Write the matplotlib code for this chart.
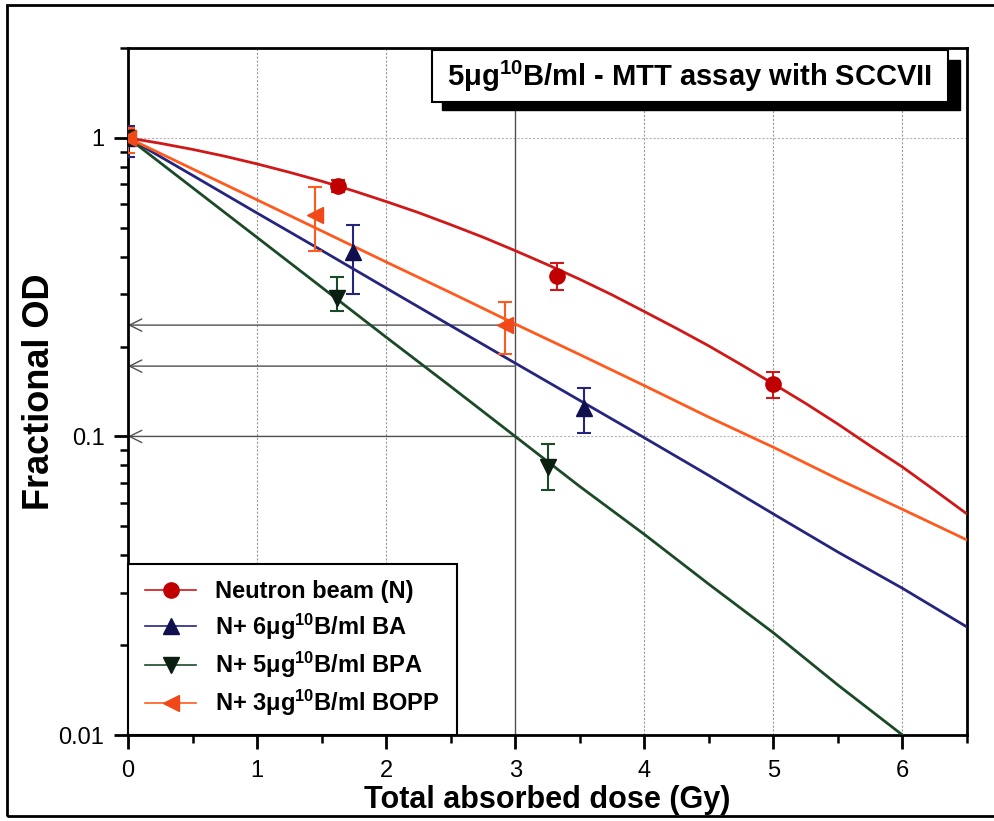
import matplotlib
matplotlib.use("Agg")
import matplotlib.pyplot as plt
from matplotlib.patches import Rectangle
from matplotlib.lines import Line2D
from matplotlib.ticker import FixedLocator, NullFormatter

plt.rcParams['font.family'] = ['Liberation Sans', 'DejaVu Sans']
plt.rcParams['mathtext.fontset'] = 'custom'
plt.rcParams['mathtext.rm'] = 'Liberation Sans:bold'
plt.rcParams['mathtext.bf'] = 'Liberation Sans:bold'
plt.rcParams['mathtext.default'] = 'bf'

# Fit curves (dose in Gy, fractional OD)
dose_fit_n = [0, 0.25, 0.5, 0.75, 1, 1.25, 1.5, 1.75, 2, 2.25, 2.5, 2.75, 3, 3.25,
              3.5, 3.75, 4, 4.25, 4.5, 4.75, 5, 5.25, 5.5, 5.75, 6, 6.25, 6.5]
fit_neutron = [1.0, 0.959, 0.915, 0.868, 0.818, 0.767, 0.716, 0.664, 0.612, 0.562, 0.512,
               0.465, 0.419, 0.376, 0.336, 0.298, 0.262, 0.230, 0.201, 0.174, 0.150,
               0.129, 0.110, 0.093, 0.079, 0.066, 0.055]
dose_fit = [0, 0.5, 1, 1.5, 2, 2.5, 3, 3.5, 4, 4.5, 5, 5.5, 6, 6.5]
fit_ba = [1.0, 0.749, 0.560, 0.420, 0.314, 0.235, 0.176, 0.132, 0.099, 0.074, 0.055, 0.041, 0.031, 0.023]
fit_bpa = [1.0, 0.681, 0.464, 0.316, 0.215, 0.147, 0.100, 0.068, 0.047, 0.032, 0.022, 0.0147, 0.0100, 0.0068]
fit_bopp = [1.0, 0.787, 0.620, 0.488, 0.384, 0.303, 0.238, 0.188, 0.148, 0.116, 0.092, 0.072, 0.057, 0.045]

# Measured points: dose, value, lower and upper error bar ends
dose_n = [0, 1.63, 3.32, 5.0]
od_n = [1.0, 0.69, 0.345, 0.15]
lo_n = [0.94, 0.66, 0.31, 0.135]
hi_n = [1.06, 0.72, 0.38, 0.165]

dose_ba = [0, 1.74, 3.53]
od_ba = [1.0, 0.415, 0.125]
lo_ba = [0.86, 0.30, 0.103]
hi_ba = [1.10, 0.51, 0.145]

dose_bpa = [0, 1.62, 3.25]
od_bpa = [1.0, 0.29, 0.079]
lo_bpa = [0.96, 0.263, 0.066]
hi_bpa = [1.04, 0.342, 0.094]

dose_bopp = [0, 1.45, 2.92]
od_bopp = [1.0, 0.55, 0.236]
lo_bopp = [0.89, 0.418, 0.189]
hi_bopp = [1.08, 0.685, 0.282]

# Reading guides (arrows from 3 Gy to the axis)
guide_levels = [0.236, 0.172, 0.1]

series = [
    ("Neutron beam (N)", dose_n, od_n, lo_n, hi_n, dose_fit_n, fit_neutron, '#d01818', '#c00000', 'o'),
    (r"N+ 6μg$^{10}$B/ml BA", dose_ba, od_ba, lo_ba, hi_ba, dose_fit, fit_ba, '#25257f', '#101050', '^'),
    (r"N+ 5μg$^{10}$B/ml BPA", dose_bpa, od_bpa, lo_bpa, hi_bpa, dose_fit, fit_bpa, '#1b4a28', '#0a1f0f', 'v'),
    (r"N+ 3μg$^{10}$B/ml BOPP", dose_bopp, od_bopp, lo_bopp, hi_bopp, dose_fit, fit_bopp, '#ff5a1e', '#f04818', '<'),
]

W, H = 994, 821
fig = plt.figure(figsize=(W / 100, H / 100), dpi=100)
ax = fig.add_axes([128 / W, 86 / H, 839 / W, 687 / H])
ax.set_yscale('log')
ax.set_xlim(0, 6.5)
ax.set_ylim(0.01, 2.0)

# grid
for gx in [1, 2, 4, 5, 6]:
    ax.axvline(gx, color='#9a9a9a', lw=0.8, ls=(0, (2, 1.5)), zorder=0)
for gy in [1, 0.1]:
    ax.axhline(gy, color='#b5b5b5', lw=0.8, ls=(0, (2, 1.5)), zorder=0)
ax.axvline(3, color='#505050', lw=1.0, zorder=1)

for lev in guide_levels:
    ax.annotate('', xy=(0, lev), xytext=(3, lev),
                arrowprops=dict(arrowstyle='->', color='#505050', lw=1.0,
                                mutation_scale=22, shrinkA=0, shrinkB=0),
                zorder=1)

handles = []
for label, x, y, lo, hi, fx, fy, lc, mc, m in series:
    ax.plot(fx, fy, color=lc, lw=2.0, zorder=3)
    yerr = [[v - l for v, l in zip(y, lo)], [h - v for v, h in zip(y, hi)]]
    ax.errorbar(x, y, yerr=yerr, fmt=m, color=mc, ecolor=lc, elinewidth=1.5,
                capsize=5, capthick=1.5, markersize=11, zorder=4)
    handles.append(Line2D([], [], color=lc, lw=1.2, marker=m, markersize=11,
                          markerfacecolor=mc, markeredgecolor=mc, label=label))

# axes styling
for s in ax.spines.values():
    s.set_linewidth(2)
ax.set_xticks([0, 1, 2, 3, 4, 5, 6])
ax.xaxis.set_minor_locator(FixedLocator([0.5, 1.5, 2.5, 3.5, 4.5, 5.5, 6.5]))
ax.set_yticks([0.01, 0.1, 1])
ax.set_yticklabels(['0.01', '0.1', '1'])
ax.yaxis.set_minor_locator(FixedLocator([m * d for d in [0.01, 0.1, 1] for m in range(2, 10)]))
ax.yaxis.set_minor_formatter(NullFormatter())
ax.tick_params(which='major', direction='out', length=10, width=2, labelsize=17)
ax.tick_params(axis='x', which='major', pad=8)
ax.tick_params(axis='y', which='major', pad=7)
ax.tick_params(which='minor', direction='out', length=6, width=1.8)
ax.tick_params(top=False, right=False, which='both')

ax.set_xlabel('Total absorbed dose (Gy)', fontsize=22, fontweight='bold', va='center')
ax.xaxis.set_label_coords(0.5, -0.0946)
ax.set_ylabel('Fractional OD', fontsize=26, fontweight='bold', va='center')
ax.yaxis.set_label_coords(-0.1055, 0.5)

leg = ax.legend(handles=handles, loc='lower left', bbox_to_anchor=(0, 0),
                borderaxespad=0, fancybox=False, framealpha=1, edgecolor='black',
                prop={'weight': 'bold', 'size': 17}, handlelength=2.2,
                labelspacing=0.35, borderpad=0.7, handletextpad=0.8)
leg.get_frame().set_linewidth(1.5)
leg.set_zorder(6)

# title box with shadow
fig.patches.append(Rectangle((442 / W, 711 / H), 518 / W, 50 / H, transform=fig.transFigure,
                             facecolor='black', edgecolor='black', zorder=7))
fig.patches.append(Rectangle((432 / W, 719 / H), 516 / W, 52 / H, transform=fig.transFigure,
                             facecolor='white', edgecolor='black', lw=1.5, zorder=8))
fig.text(690 / W, 745 / H, r"5μg$^{10}$B/ml - MTT assay with SCCVII", ha='center', va='center',
         fontsize=21, fontweight='bold', zorder=9)

# outer frame
fig.patches.append(Rectangle((7 / W, 5 / H), 1010 / W, 811 / H, transform=fig.transFigure,
                             facecolor='none', edgecolor='black', lw=2, zorder=10))

fig.savefig('out.png', dpi=100)
